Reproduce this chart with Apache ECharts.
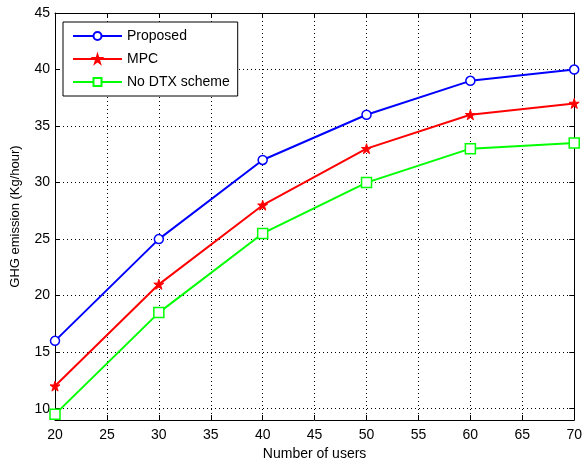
<!DOCTYPE html>
<html><head><meta charset="utf-8">
<script src="https://cdn.jsdelivr.net/npm/echarts@6/dist/echarts.min.js"></script>
<style>html,body{margin:0;padding:0;background:#fff}#c{width:585px;height:466px}</style>
</head><body><div id="c"></div>
<script>
const users = [20, 30, 40, 50, 60, 70];
const proposed = [16, 25, 32, 36, 39, 40];
const mpc = [12, 21, 28, 33, 36, 37];
const noDtx = [9.5, 18.5, 25.5, 30, 33, 33.5];
const xTicks = [20, 25, 30, 35, 40, 45, 50, 55, 60, 65, 70];
const yTicks = [10, 15, 20, 25, 30, 35, 40, 45];

const chart = echarts.init(document.getElementById('c'));
const font = 'Liberation Sans, Arial, sans-serif';
const pairs = a => users.map((u, i) => [u, a[i]]);
const starPath = 'path://M50,0 L61.8,36.2 L100,36.2 L69.1,58.8 L80.9,95.1 L50,72.7 L19.1,95.1 L30.9,58.8 L0,36.2 L38.2,36.2 Z';
const baseAxis = {
  axisLine: {show: true, onZero: false, lineStyle: {color: '#000', width: 1}},
  axisTick: {show: true, inside: true, length: 5, lineStyle: {color: '#000'}},
};
chart.setOption({
  animation: false,
  grid: {left: 55, right: 8, top: 13, bottom: 43, containLabel: false},
  legend: {
    left: 63, top: 22, orient: 'vertical',
    backgroundColor: '#fff', borderColor: '#000', borderWidth: 1,
    padding: [7, 8, 7, 9], itemGap: 9, itemWidth: 49, itemHeight: 10,
    textStyle: {fontFamily: font, fontSize: 14, color: '#000'},
    data: ['Proposed', 'MPC', 'No DTX scheme']
  },
  xAxis: [
    Object.assign({}, baseAxis, {
      type: 'value', min: 20, max: 70, interval: 5,
      name: 'Number of users', nameLocation: 'middle', nameGap: 27,
      nameTextStyle: {fontFamily: font, fontSize: 14, color: '#000'},
      axisLabel: {fontFamily: font, fontSize: 14, color: '#000', margin: 8,
        customValues: xTicks},
      splitLine: {show: true, lineStyle: {color: '#000', type: [1, 3], width: 1}}
    }),
    Object.assign({}, baseAxis, {
      type: 'value', min: 20, max: 70, interval: 5, position: 'top',
      axisLabel: {show: false}, splitLine: {show: false}
    })
  ],
  yAxis: [
    Object.assign({}, baseAxis, {
      type: 'value', min: 9, max: 45,
      name: 'GHG emission (Kg/hour)', nameLocation: 'middle', nameGap: 33,
      nameTextStyle: {fontFamily: font, fontSize: 13, color: '#000'},
      axisTick: {show: true, inside: true, length: 5, lineStyle: {color: '#000'}, customValues: yTicks},
      axisLabel: {fontFamily: font, fontSize: 14, color: '#000', margin: 5, customValues: yTicks},
      splitLine: {show: true, lineStyle: {color: '#000', type: [1, 3], width: 1}}
    }),
    Object.assign({}, baseAxis, {
      type: 'value', min: 9, max: 45, position: 'right',
      axisTick: {show: true, inside: true, length: 5, lineStyle: {color: '#000'}, customValues: yTicks},
      axisLabel: {show: false, customValues: yTicks}, splitLine: {show: false}
    })
  ],
  series: [
    {name: 'Proposed', type: 'line', data: pairs(proposed), symbol: 'circle', symbolSize: 9,
      lineStyle: {color: '#0000ff', width: 2}, itemStyle: {color: '#fff', borderColor: '#0000ff', borderWidth: 1.5}},
    {name: 'MPC', type: 'line', data: pairs(mpc), symbol: starPath, symbolSize: 10,
      lineStyle: {color: '#ff0000', width: 2}, itemStyle: {color: '#ff0000', borderColor: '#ff0000', borderWidth: 1}},
    {name: 'No DTX scheme', type: 'line', data: pairs(noDtx), symbol: 'rect', symbolSize: 10,
      lineStyle: {color: '#00ff00', width: 2}, itemStyle: {color: '#fff', borderColor: '#00ff00', borderWidth: 1.5}}
  ]
});
</script></body></html>
